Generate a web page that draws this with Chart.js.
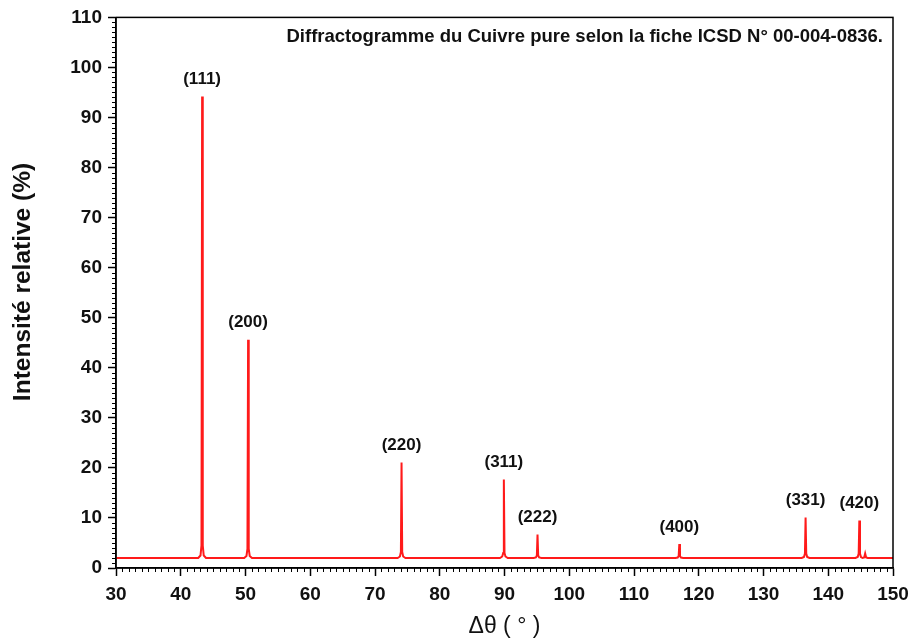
<!DOCTYPE html>
<html>
<head>
<meta charset="utf-8">
<script src="https://cdn.jsdelivr.net/npm/chart.js@4/dist/chart.umd.min.js"></script>
<style>
html,body{margin:0;padding:0;background:#fff;}
#c{display:block;}
</style>
</head>
<body>
<canvas id="c" width="913" height="643"></canvas>
<script>
// ---- data ----
const twoTheta = [
  30.0,
  42.7, 43.05, 43.2, 43.3, 43.4, 43.55, 43.9,
  49.8, 50.15, 50.3, 50.4, 50.5, 50.65, 51.0,
  73.5, 73.85, 74.0, 74.1, 74.2, 74.35, 74.7,
  89.3, 89.65, 89.8, 89.9, 90.0, 90.15, 90.5,
  94.5, 94.85, 95.0, 95.1, 95.2, 95.35, 95.7,
  116.4, 116.75, 116.9, 117.0, 117.1, 117.25, 117.6,
  135.9, 136.25, 136.4, 136.5, 136.6, 136.75, 137.1,
  144.2, 144.55, 144.7, 144.8, 144.9, 145.05, 145.3, 145.55, 145.7, 145.85, 146.1,
  150.0
];
const intensity = [
  2.0,
  2.0, 2.5, 4.5, 94.2, 4.5, 2.5, 2.0,
  2.0, 2.4, 3.8, 45.6, 3.8, 2.4, 2.0,
  2.0, 2.3, 3.2, 21.1, 3.2, 2.3, 2.0,
  2.0, 2.3, 3.0, 17.7, 3.0, 2.3, 2.0,
  2.0, 2.1, 2.5, 6.7, 2.5, 2.1, 2.0,
  2.0, 2.1, 2.4, 4.8, 2.4, 2.1, 2.0,
  2.0, 2.2, 2.9, 10.1, 2.9, 2.2, 2.0,
  2.0, 2.2, 2.9, 9.5, 2.9, 2.2, 2.0, 2.1, 2.9, 2.1, 2.0,
  2.0
];
const peakLabels  = ['(111)', '(200)', '(220)', '(311)', '(222)', '(400)', '(331)', '(420)'];
const peakAngles  = [43.3, 50.4, 74.1, 89.9, 95.1, 117.0, 136.5, 144.8];
const peakHeights = [94.2, 45.6, 21.1, 17.7, 6.7, 4.8, 10.1, 9.5];
const xTicks = [30, 40, 50, 60, 70, 80, 90, 100, 110, 120, 130, 140, 150];
const yTicks = [0, 10, 20, 30, 40, 50, 60, 70, 80, 90, 100, 110];
const chartTitle = 'Diffractogramme du Cuivre pure selon la fiche ICSD N° 00-004-0836.';
const xTitle = 'Δθ ( ° )';
const yTitle = 'Intensité relative (%)';

const points = twoTheta.map((x, i) => ({x: x, y: intensity[i]}));
const FONT = '"Liberation Sans", Arial, Helvetica, sans-serif';

const decor = {
  id: 'decor',
  afterDraw(chart) {
    const ctx = chart.ctx;
    const a = chart.chartArea;
    const xs = chart.scales.x, ys = chart.scales.y;
    ctx.save();
    // frame
    ctx.strokeStyle = '#000';
    ctx.lineWidth = 1.5;
    ctx.strokeRect(a.left, a.top, a.right - a.left, a.bottom - a.top);
    // minor ticks
    ctx.lineWidth = 1;
    ctx.beginPath();
    for (let v = xs.min; v <= xs.max; v += 1) {
      if (v % 10 === 0) continue;
      const px = Math.round(xs.getPixelForValue(v)) + 0.5;
      ctx.moveTo(px, a.bottom);
      ctx.lineTo(px, a.bottom + 4);
    }
    for (let v = ys.min; v <= ys.max; v += 1) {
      if (v % 10 === 0) continue;
      const py = Math.round(ys.getPixelForValue(v)) + 0.5;
      ctx.moveTo(a.left, py);
      ctx.lineTo(a.left - 4, py);
    }
    ctx.stroke();
    // peak labels
    ctx.fillStyle = '#111';
    ctx.font = 'bold 17px ' + FONT;
    ctx.textAlign = 'center';
    ctx.textBaseline = 'middle';
    peakLabels.forEach((lab, i) => {
      const px = xs.getPixelForValue(peakAngles[i]);
      const py = ys.getPixelForValue(peakHeights[i]);
      ctx.fillText(lab, px, py - 17);
    });
    // title
    ctx.font = 'bold 18.5px ' + FONT;
    ctx.textAlign = 'right';
    ctx.textBaseline = 'alphabetic';
    ctx.fillText(chartTitle, a.right - 10, 41.5);
    // axis titles
    ctx.font = '23px ' + FONT;
    ctx.textAlign = 'center';
    ctx.textBaseline = 'middle';
    ctx.fillText(xTitle, (a.left + a.right) / 2, 627);
    ctx.save();
    ctx.translate(23, 282);
    ctx.rotate(-Math.PI / 2);
    ctx.font = 'bold 24.5px ' + FONT;
    ctx.fillText(yTitle, 0, 0);
    ctx.restore();
    ctx.restore();
  }
};

new Chart(document.getElementById('c'), {
  type: 'line',
  data: {
    datasets: [{
      data: points,
      borderColor: '#ff1a1a',
      borderWidth: 2,
      pointRadius: 0,
      tension: 0,
      fill: false
    }]
  },
  options: {
    responsive: false,
    animation: false,
    devicePixelRatio: 1,
    layout: {padding: {top: 17, right: 20, left: 0, bottom: 0}},
    plugins: {legend: {display: false}, tooltip: {enabled: false}},
    scales: {
      x: {
        type: 'linear', min: 30, max: 150,
        afterBuildTicks(s) { s.ticks = xTicks.map(v => ({value: v})); },
        afterFit(s) { s.height = 75; s.paddingRight = 0; s.paddingLeft = 0; },
        grid: {drawOnChartArea: false, drawTicks: true, tickLength: 8, tickColor: '#000', tickWidth: 1.5},
        border: {display: true, color: '#000', width: 1.5},
        ticks: {color: '#111', padding: 7, maxRotation: 0, font: {family: FONT, size: 19, weight: 'bold'}}
      },
      y: {
        type: 'linear', min: 0, max: 110,
        afterBuildTicks(s) { s.ticks = yTicks.map(v => ({value: v})); },
        afterFit(s) { s.width = 116; },
        grid: {drawOnChartArea: false, drawTicks: true, tickLength: 8, tickColor: '#000', tickWidth: 1.5},
        border: {display: true, color: '#000', width: 1.5},
        ticks: {color: '#111', padding: 6, font: {family: FONT, size: 19, weight: 'bold'}}
      }
    }
  },
  plugins: [decor]
});
</script>
</body>
</html>
